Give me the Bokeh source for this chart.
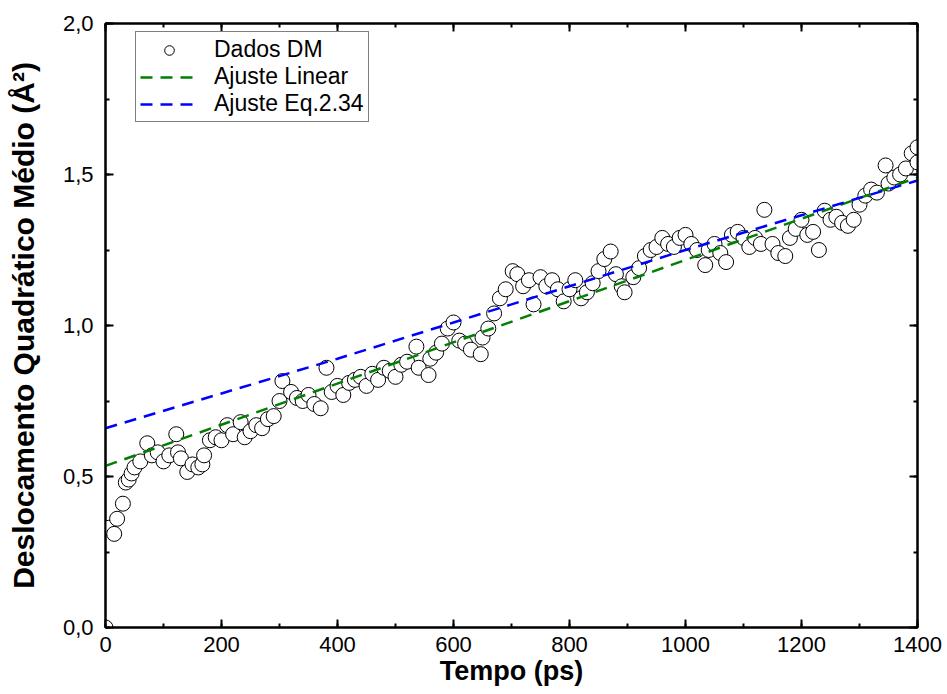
from bokeh.plotting import figure
from bokeh.models import LinearAxis, CustomJSTickFormatter, SingleIntervalTicker, Range1d, Legend, LegendItem
from bokeh.embed import file_html
from bokeh.resources import INLINE

tempo = [0, 5, 15, 20, 30, 35, 40, 45, 50, 60, 72, 80, 90, 100, 110, 122, 125, 130, 141, 150,
         160, 167, 170, 180, 190, 200, 210, 220, 233, 240, 250, 260, 270, 280, 290, 300, 305, 320,
         330, 340, 350, 360, 371, 381, 390, 400, 410, 420, 430, 440, 450, 460, 470, 480, 490, 500,
         510, 520, 536, 540, 557, 560, 570, 580, 590, 600, 610, 620, 630, 647, 650, 660, 670, 680,
         690, 702, 710, 720, 730, 738, 750, 760, 770, 780, 790, 800, 810, 820, 830, 840, 850, 860,
         871, 880, 890, 895, 910, 920, 930, 940, 950, 960, 970, 980, 990, 1000, 1010, 1020, 1034,
         1040, 1050, 1060, 1070, 1080, 1090, 1100, 1110, 1120, 1130, 1136, 1150, 1160, 1172, 1180,
         1190, 1200, 1210, 1220, 1230, 1240, 1250, 1260, 1270, 1280, 1290, 1300, 1310, 1320, 1330,
         1345, 1350, 1360, 1370, 1380, 1390, 1400, 1400]
dados = [0.00, 0.33, 0.31, 0.36, 0.41, 0.48, 0.49, 0.51, 0.53, 0.55, 0.61, 0.57, 0.58, 0.55, 0.57, 0.64, 0.58, 0.56, 0.515, 0.54,
         0.53, 0.54, 0.57, 0.62, 0.63, 0.62, 0.67, 0.64, 0.68, 0.63, 0.65, 0.67, 0.66, 0.69, 0.70, 0.75, 0.816, 0.78,
         0.76, 0.75, 0.77, 0.74, 0.726, 0.86, 0.78, 0.80, 0.77, 0.81, 0.82, 0.83, 0.80, 0.84, 0.82, 0.86, 0.85, 0.83,
         0.87, 0.88, 0.93, 0.86, 0.836, 0.89, 0.91, 0.94, 0.99, 1.01, 0.95, 0.94, 0.92, 0.905, 0.96, 0.99, 1.04, 1.09,
         1.12, 1.18, 1.17, 1.13, 1.15, 1.07, 1.16, 1.13, 1.15, 1.12, 1.08, 1.12, 1.15, 1.09, 1.11, 1.14, 1.18, 1.22,
         1.245, 1.17, 1.13, 1.11, 1.16, 1.19, 1.23, 1.25, 1.26, 1.29, 1.27, 1.26, 1.29, 1.30, 1.27, 1.25, 1.20,
         1.25, 1.27, 1.24, 1.21, 1.30, 1.31, 1.29, 1.26, 1.29, 1.27, 1.383, 1.27, 1.24, 1.23, 1.29,
         1.32, 1.35, 1.30, 1.31, 1.25, 1.38, 1.35, 1.36, 1.34, 1.33, 1.35, 1.40, 1.43, 1.45, 1.44,
         1.53, 1.47, 1.49, 1.50, 1.52, 1.57, 1.59, 1.54]

fit_t = [0, 1400]
fit_linear = [0.535, 1.49]
eq_t = [0, 200, 400, 600, 800, 1000, 1200, 1400]
eq_fit = [0.66, 0.775, 0.89, 1.01, 1.13, 1.25, 1.365, 1.48]

FONT = "Liberation Sans"

p = figure(width=947, height=694, output_backend="svg", toolbar_location=None,
           x_range=Range1d(0, 1400), y_range=Range1d(0, 2.0),
           min_border_left=105, min_border_right=30, min_border_top=23, min_border_bottom=67,
           x_axis_label="Tempo (ps)", y_axis_label="Deslocamento Quadrático Médio (Å²)")
p.grid.visible = False
p.outline_line_color = "black"
p.outline_line_width = 2
p.background_fill_color = "white"
p.border_fill_color = "white"

fmt = CustomJSTickFormatter(code="return tick.toFixed(1).replace('.', ',');")

def style_axis(ax, labels=True):
    ax.major_tick_in = 8
    ax.major_tick_out = 0
    ax.minor_tick_in = 4
    ax.minor_tick_out = 0
    ax.axis_line_width = 2
    ax.major_tick_line_width = 2
    ax.minor_tick_line_width = 2
    ax.major_label_text_font = FONT
    ax.major_label_text_font_size = "22px"
    ax.major_label_text_color = "black"
    ax.axis_label_text_font = FONT
    ax.axis_label_text_font_size = "27px"
    ax.axis_label_text_font_style = "bold"
    ax.axis_label_text_color = "black"
    if not labels:
        ax.major_label_text_alpha = 0
        ax.major_label_text_font_size = "1px"

p.xaxis.ticker = SingleIntervalTicker(interval=200, num_minor_ticks=2)
p.yaxis.ticker = SingleIntervalTicker(interval=0.5, num_minor_ticks=2)
p.yaxis.formatter = fmt
style_axis(p.xaxis[0])
style_axis(p.yaxis[0])
p.yaxis.axis_label_text_font_size = "30px"
p.xaxis.major_label_standoff = 9
p.yaxis.major_label_standoff = 12
p.xaxis.axis_label_standoff = 1
p.yaxis.axis_label_standoff = 20

top = LinearAxis(ticker=SingleIntervalTicker(interval=200, num_minor_ticks=2))
style_axis(top, labels=False)
p.add_layout(top, "above")
right = LinearAxis(ticker=SingleIntervalTicker(interval=0.5, num_minor_ticks=2))
style_axis(right, labels=False)
p.add_layout(right, "right")

r_pts = p.scatter(tempo, dados, marker="circle", size=15, fill_color="white",
                  line_color="black", line_width=1)
r_lin = p.line(fit_t, fit_linear, line_color="#008000", line_width=2.5, line_dash="12 8")
r_eq = p.line(eq_t, eq_fit, line_color="#0000ff", line_width=2.5, line_dash="12 8")

legend = Legend(items=[LegendItem(label="Dados DM", renderers=[r_pts]),
                       LegendItem(label="Ajuste Linear", renderers=[r_lin]),
                       LegendItem(label="Ajuste Eq.2.34", renderers=[r_eq])],
                location=(30, 505))
legend.border_line_color = "black"
legend.border_line_width = 1
legend.label_text_font = FONT
legend.label_text_font_size = "23px"
legend.label_text_color = "black"
legend.glyph_width = 58
legend.glyph_height = 24
legend.label_height = 24
legend.spacing = 0
legend.padding = 4
legend.margin = 0
legend.label_standoff = 16
p.add_layout(legend, "center")

open("out.html", "w").write(file_html(p, INLINE))
